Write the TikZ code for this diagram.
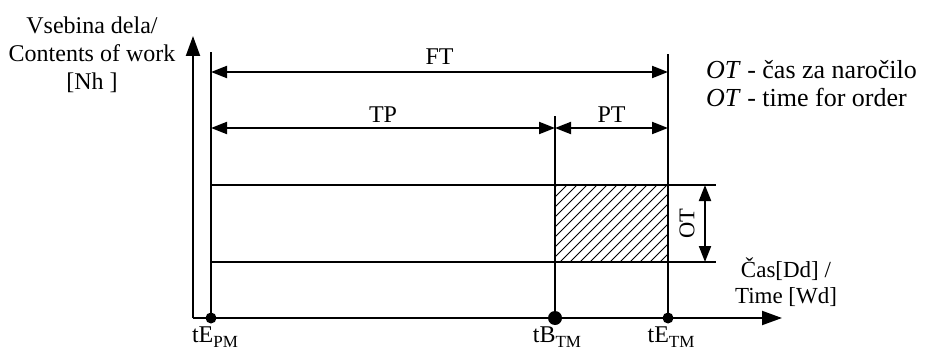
\documentclass[tikz,border=0pt]{standalone}
\usepackage{fontspec}
\setmainfont{Liberation Serif}
\usetikzlibrary{arrows.meta,positioning}

\newcommand{\lowsub}[1]{\raisebox{-5pt}{\fontsize{17}{17}\selectfont #1}}

\begin{document}
\begin{tikzpicture}[
  x=1pt, y=-1pt,
  line width=2pt,
  dim/.style={{Triangle[length=16pt,width=12pt]}-{Triangle[length=16pt,width=12pt]}},
  axis/.style={-{Triangle[length=20pt,width=14pt]}},
  lbl/.style={font=\fontsize{24}{28}\selectfont, inner sep=1pt, align=center},
  dot/.style={circle, fill=black, inner sep=0pt, minimum size=11pt}
]
\useasboundingbox (0,0) rectangle (926,353);

% axes
\coordinate (origin) at (193,318);
\coordinate (ytip) at (193,36);
\coordinate (xtip) at (782,318);
\draw[axis] (origin) -- (ytip);
\draw[axis] (origin) -- (xtip);

% time points
\node[dot] (tepm) at (211,318) {};
\node[dot, minimum size=14pt] (tbtm) at (555,318) {};
\node[dot] (tetm) at (668,318) {};
\coordinate (tepm top) at (211,52);
\coordinate (tbtm top) at (555,116);
\coordinate (tetm top) at (668,54);
\draw (tepm.center) -- (tepm top);
\draw (tbtm.center) -- (tbtm top);
\draw (tetm.center) -- (tetm top);

% dimension arrows
\coordinate (ft a) at (211,72);
\coordinate (ft b) at (668,72);
\coordinate (tp a) at (211,128);
\coordinate (tp b) at (555,128);
\coordinate (pt b) at (668,128);
\draw[dim] (ft a) -- node[lbl, above=6pt] (ft) {FT} (ft b);
\draw[dim] (tp a) -- node[lbl, above=4pt] (tp) {TP} (tp b);
\draw[dim] (tp b) -- node[lbl, above=4pt] (pt) {PT} (pt b);

% order block
\coordinate (blk tl) at (211,185);
\coordinate (blk bl) at (211,262);
\coordinate (blk tr) at (716,185);
\coordinate (blk br) at (716,262);
\coordinate (hatch tl) at (555,185);
\coordinate (hatch br) at (668,262);
\begin{scope}
  \clip (hatch tl) rectangle (hatch br);
  \foreach \s in {0,10,...,200}
    \draw[line width=1pt] (480+\s,262) -- (557+\s,185);
\end{scope}
\draw (blk tl) -- (blk tr);
\draw (blk bl) -- (blk br);

\coordinate (ot a) at (705,185);
\coordinate (ot b) at (705,262);
\draw[dim] (ot a) -- (ot b);
\node[lbl, font=\fontsize{22.5}{27}\selectfont, rotate=90] (ot) at (687,224) {OT};

% labels
\node[lbl, anchor=base] (tepm lbl) at (215,342) {tE\lowsub{PM}};
\node[lbl, anchor=base] (tbtm lbl) at (557,342) {tB\lowsub{TM}};
\node[lbl, anchor=base] (tetm lbl) at (671,342) {tE\lowsub{TM}};
\node[lbl, font=\fontsize{23}{26}\selectfont] (xlbl) at (786,282) {Čas[Dd] /\\Time [Wd]};
\node[lbl] (ylbl) at (92,55) {Vsebina dela/\\Contents of work\\{}[Nh ]};
\node[lbl, font=\fontsize{26}{28}\selectfont, align=left, anchor=west] (legend) at (704,84) {\textit{OT} - čas za naročilo\\\textit{OT} - time for order};
\end{tikzpicture}
\end{document}
